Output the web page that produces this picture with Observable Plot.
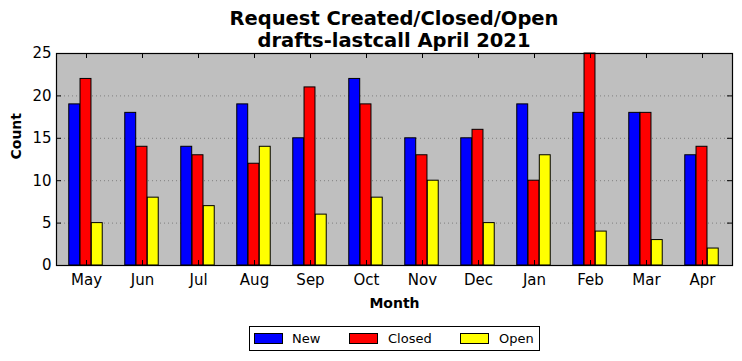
<!DOCTYPE html>
<html><head><meta charset="utf-8">
<script src="https://cdn.jsdelivr.net/npm/d3@7"></script>
<script src="https://cdn.jsdelivr.net/npm/@observablehq/plot@0.6"></script>
<style>
body{margin:0;background:#fff;font-family:"DejaVu Sans",sans-serif;}
#wrap{position:relative;width:742px;height:361px;overflow:hidden;}
#title{position:absolute;left:56px;width:676px;top:8px;text-align:center;font-weight:bold;font-size:19.5px;line-height:22px;color:#000;}
#chart{position:absolute;left:0;top:50px;}
#legend{position:absolute;left:249px;top:326px;width:289px;height:23px;border:1px solid #000;background:#fff;}
.sw{position:absolute;width:27px;height:9px;border:1px solid #000;top:6px;}
.lt{position:absolute;top:4px;font-size:13px;line-height:16px;}
</style></head>
<body><div id="wrap">
<div id="title">Request Created/Closed/Open<br>drafts-lastcall April 2021</div>
<div id="chart"></div>
<div id="legend"></div>
</div>
<script>
const months = ["May","Jun","Jul","Aug","Sep","Oct","Nov","Dec","Jan","Feb","Mar","Apr"];
const newCounts = [19,18,14,19,15,22,15,15,19,18,18,13];
const closedCounts = [22,14,13,12,21,19,13,16,10,25,18,14];
const openCounts = [5,8,7,14,6,8,10,5,13,4,3,2];
const seriesNames = ["New","Closed","Open"];
const seriesColors = ["#0000ff","#ff0000","#ffff00"];
const yTicks = [0,5,10,15,20,25];
const gridTicks = [5,10,15,20];

const W = 742, H = 275, mL = 56, mR = 10, mT = 3, mB = 60;
const plotW = W - mL - mR, plotH = H - mT - mB;
const bw = plotW / months.length;
const barW = bw * 0.2;
const seriesValues = [newCounts, closedCounts, openCounts];

const barMarks = seriesValues.map((vals, i) => {
  const insetLeft = bw / 2 + (i - 1.5) * barW - 0.5;
  const insetRight = bw - insetLeft - barW;
  return Plot.barY(months.map((m, j) => ({month: m, value: vals[j]})), {
    x: "month", y: "value", fill: seriesColors[i], stroke: "#000", strokeWidth: 1,
    insetLeft, insetRight
  });
});

const chart = Plot.plot({
  width: W, height: H, marginLeft: mL, marginRight: mR, marginTop: mT, marginBottom: mB,
  style: {fontFamily: "DejaVu Sans", background: "transparent", overflow: "visible"},
  x: {type: "band", domain: months, padding: 0, axis: null},
  y: {domain: [0, 25], axis: null},
  marks: [
    Plot.frame({fill: "#bfbfbf"}),
    Plot.ruleY(gridTicks, {stroke: "#7f7f7f", strokeDasharray: "1,3", strokeWidth: 1}),
    ...barMarks,
    Plot.tickY(yTicks, {y: d => d, insetRight: plotW - 5, stroke: "#000"}),
    Plot.tickY(yTicks, {y: d => d, insetLeft: plotW - 5, stroke: "#000"}),
    Plot.tickX(months, {x: d => d, insetBottom: plotH - 5, stroke: "#000"}),
    Plot.tickX(months, {x: d => d, insetTop: plotH - 5, stroke: "#000"}),
    Plot.frame({stroke: "#000", strokeWidth: 1.2}),
    Plot.text(yTicks, {y: d => d, frameAnchor: "left", textAnchor: "end", dx: -5, fontSize: 15, fill: "#000"}),
    Plot.text(months, {x: d => d, frameAnchor: "bottom", dy: 19, fontSize: 15, fill: "#000"}),
    Plot.text(["Month"], {frameAnchor: "bottom", dy: 42, fontSize: 14, fontWeight: "bold", fill: "#000"}),
    Plot.text(["Count"], {frameAnchor: "left", dx: -40, rotate: -90, fontSize: 14, fontWeight: "bold", fill: "#000"})
  ]
});
document.getElementById("chart").appendChild(chart);

const legend = document.getElementById("legend");
const swX = [4, 99, 210];
const txX = [42, 138, 249];
seriesNames.forEach((name, i) => {
  const s = document.createElement("div");
  s.className = "sw"; s.style.left = swX[i] + "px"; s.style.background = seriesColors[i];
  legend.appendChild(s);
  const t = document.createElement("div");
  t.className = "lt"; t.style.left = txX[i] + "px"; t.textContent = name;
  legend.appendChild(t);
});
</script>
</body></html>
